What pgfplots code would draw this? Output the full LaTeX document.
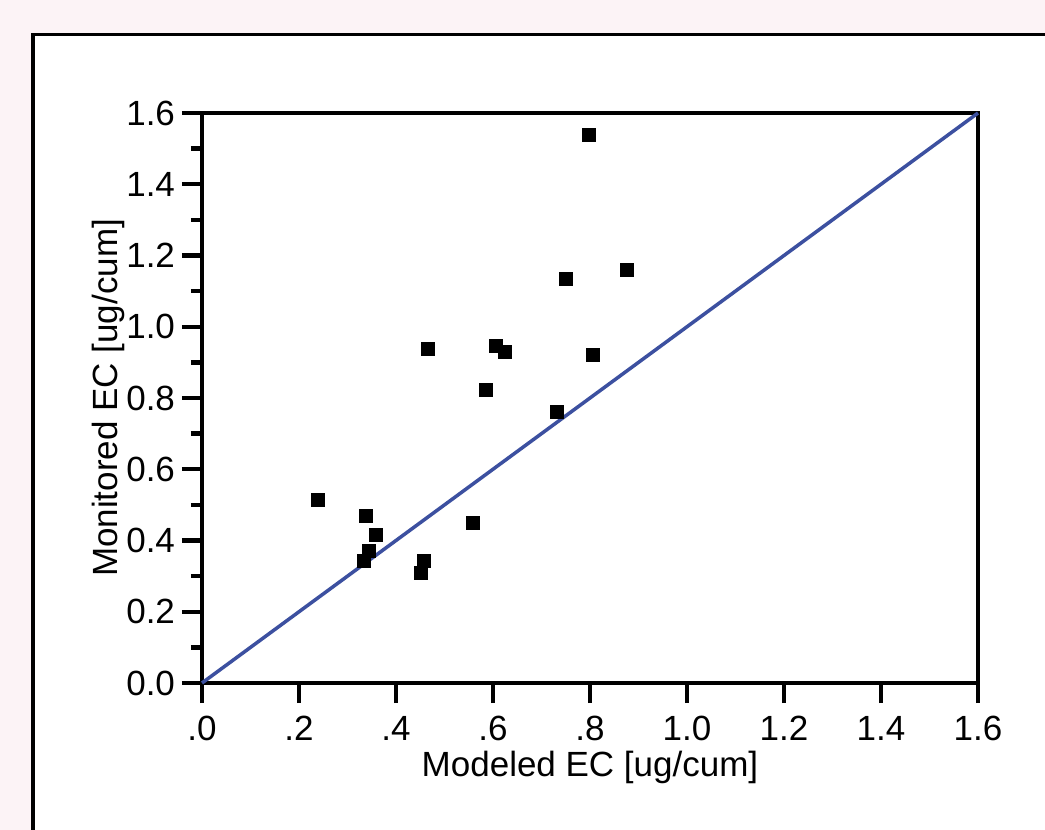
\documentclass[border=0pt]{standalone}
\usepackage{fontspec}
\setmainfont{Liberation Sans}
\usepackage{pgfplots}
\pgfplotsset{compat=1.18}
\definecolor{pagebg}{RGB}{252,243,246}
\definecolor{diag}{RGB}{60,80,160}

\pgfplotstableread{
x y
0.239 0.514
0.338 0.468
0.359 0.415
0.345 0.371
0.333 0.344
0.458 0.344
0.452 0.308
0.558 0.450
0.605 0.947
0.625 0.928
0.805 0.920
0.585 0.822
0.731 0.760
0.798 1.539
0.466 0.938
0.751 1.134
0.876 1.159
}\ecdata

\begin{document}
\begin{tikzpicture}
\clip (0,0) rectangle (522.5bp,415bp);
\fill[pagebg] (0,0) rectangle (522.5bp,415bp);
\draw[line width=1.75bp,fill=white] (16.5bp,397.75bp) rectangle (540bp,-20bp);
\begin{axis}[
  at={(101bp,73.5bp)}, anchor=south west,
  scale only axis, width=388bp, height=285bp,
  xmin=0, xmax=1.6, ymin=0, ymax=1.6,
  xtick={0,0.2,0.4,0.6,0.8,1.0,1.2,1.4,1.6},
  xticklabels={.0,.2,.4,.6,.8,1.0,1.2,1.4,1.6},
  ytick={0,0.2,0.4,0.6,0.8,1.0,1.2,1.4,1.6},
  yticklabels={0.0,0.2,0.4,0.6,0.8,1.0,1.2,1.4,1.6},
  minor y tick num=1,
  tick pos=left, tick align=outside,
  major tick length=10bp, minor tick length=5.5bp,
  axis line style={line width=2.2bp},
  every tick/.style={line width=2.2bp, black},
  tick label style={font=\fontsize{17.5bp}{21bp}\selectfont},
  xticklabel style={yshift=-3bp},
  label style={font=\fontsize{17.5bp}{21bp}\selectfont},
  /pgf/number format/assume math mode=true,
  xlabel={Modeled EC [ug/cum]},
  ylabel={Monitored EC [ug/cum]},
  xlabel style={at={(axis description cs:0.5,-0.149)}, anchor=center},
  ylabel style={at={(axis description cs:-0.121,0.5)}, anchor=center},
  clip=false,
]
\addplot[diag, line width=1.75bp] coordinates {(0,0) (1.6,1.6)};
\addplot[only marks, mark=square*, mark size=3.25bp, black] table {\ecdata};
\end{axis}
\end{tikzpicture}
\end{document}
